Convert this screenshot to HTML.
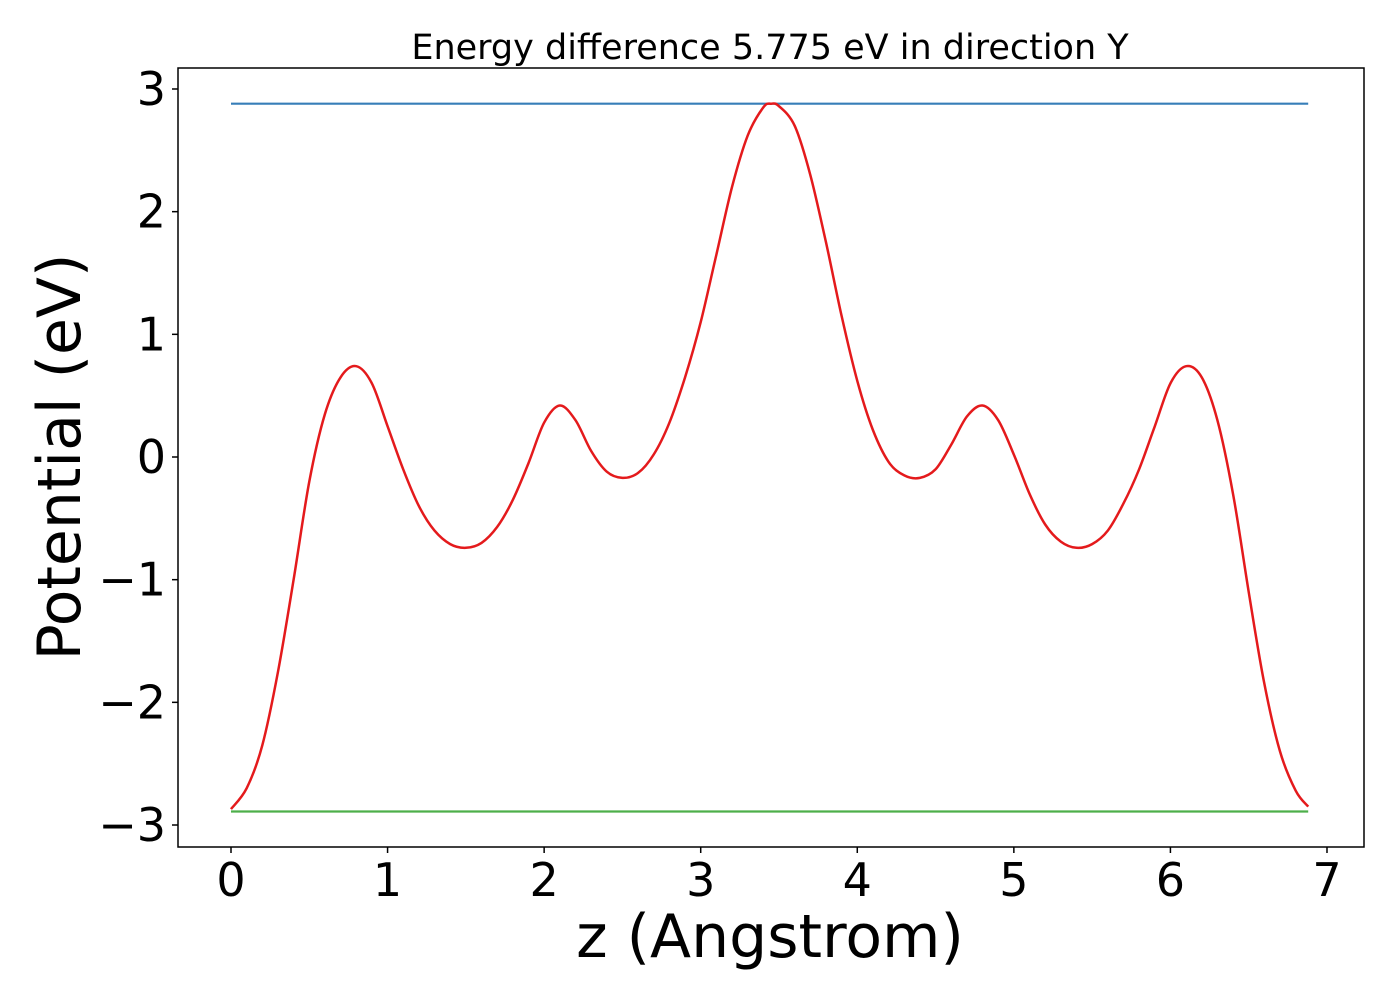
<!DOCTYPE html>
<html><head><meta charset="utf-8"><style>
body{margin:0;background:#fff}
svg text{font-family:"DejaVu Sans","Liberation Sans",sans-serif;fill:#000}
</style></head><body>
<svg id="chart" width="1400" height="1000" xmlns="http://www.w3.org/2000/svg">
<rect width="1400" height="1000" fill="#fff"/>
<text x="770" y="59" font-size="35" text-anchor="middle">Energy difference 5.775 eV in direction Y</text>
<g id="ticks"></g>
<g id="plot"></g>
<rect x="178" y="68" width="1186" height="779" fill="none" stroke="#000" stroke-width="1.5"/>
<text x="770" y="957" font-size="60" text-anchor="middle">z (Angstrom)</text>
<text transform="translate(80,457) rotate(-90)" font-size="60" text-anchor="middle">Potential (eV)</text>
</svg>
<script>
const zVals=[0,0.1,0.2,0.3,0.4,0.5,0.6,0.7,0.8,0.9,1.0,1.1,1.2,1.3,1.4,1.5,1.6,1.7,1.8,1.9,2.0,2.1,2.2,2.3,2.4,2.5,2.6,2.7,2.8,2.9,3.0,3.1,3.2,3.3,3.4,3.45,3.5,3.6,3.7,3.8,3.9,4.0,4.1,4.2,4.3,4.4,4.5,4.6,4.7,4.8,4.9,5.0,5.1,5.2,5.3,5.4,5.5,5.6,5.7,5.8,5.9,6.0,6.1,6.2,6.3,6.4,6.5,6.6,6.7,6.8,6.88];
const potVals=[-2.87,-2.70,-2.35,-1.75,-1.0,-0.2,0.35,0.65,0.74,0.6,0.25,-0.1,-0.4,-0.6,-0.71,-0.74,-0.7,-0.57,-0.35,-0.05,0.28,0.42,0.3,0.05,-0.12,-0.17,-0.13,0.02,0.28,0.65,1.1,1.65,2.2,2.62,2.85,2.88,2.86,2.7,2.3,1.75,1.15,0.62,0.22,-0.04,-0.15,-0.17,-0.1,0.1,0.33,0.42,0.3,0.02,-0.3,-0.55,-0.69,-0.74,-0.71,-0.6,-0.38,-0.1,0.25,0.6,0.74,0.65,0.3,-0.3,-1.1,-1.85,-2.4,-2.72,-2.85];
const maxLine=[2.88];
const minLine=[-2.89];
const xTicks=[0,1,2,3,4,5,6,7];
const yTicks=[3,2,1,0,-1,-2,-3];
const X=v=>231+v*156.57, Y=v=>457-v*122.67;
const NS="http://www.w3.org/2000/svg";
const plot=document.getElementById('plot'), tk=document.getElementById('ticks');
function mk(tag,attrs,parent){const e=document.createElementNS(NS,tag);for(const k in attrs)e.setAttribute(k,attrs[k]);parent.appendChild(e);return e;}
xTicks.forEach(t=>{
 const l=mk('line',{x1:X(t),x2:X(t),y1:847,y2:853,stroke:'#000','stroke-width':1.5},tk);
 
 
 const s=mk('text',{x:X(t),y:896,'font-size':46,'text-anchor':'middle'},tk);s.textContent=String(t);
 
 
});
yTicks.forEach(t=>{
 const l=mk('line',{x1:172,x2:178,y1:Y(t),y2:Y(t),stroke:'#000','stroke-width':1.5},tk);
 
 
 const s=mk('text',{x:166,y:Y(t)+16,'font-size':46,'text-anchor':'end'},tk);s.textContent=(t<0?'\u2212':'')+Math.abs(t);
 
 
});
const zmin=zVals[0], zmax=zVals[zVals.length-1];
const b=mk('line',{x1:X(zmin),x2:X(zmax),y1:Y(maxLine[0]),y2:Y(maxLine[0]),stroke:'#377eb8','stroke-width':2.2},plot);


const g=mk('line',{x1:X(zmin),x2:X(zmax),y1:Y(minLine[0]),y2:Y(minLine[0]),stroke:'#4daf4a','stroke-width':2.2},plot);


const P=zVals.map((z,i)=>[X(z),Y(potVals[i])]);
let d='M'+P[0][0].toFixed(1)+','+P[0][1].toFixed(1);
for(let i=0;i<P.length-1;i++){
 const p0=P[Math.max(i-1,0)],p1=P[i],p2=P[i+1],p3=P[Math.min(i+2,P.length-1)];
 const c1=[p1[0]+(p2[0]-p0[0])/6,p1[1]+(p2[1]-p0[1])/6];
 const c2=[p2[0]-(p3[0]-p1[0])/6,p2[1]-(p3[1]-p1[1])/6];
 d+=' C'+c1[0].toFixed(1)+','+c1[1].toFixed(1)+' '+c2[0].toFixed(1)+','+c2[1].toFixed(1)+' '+p2[0].toFixed(1)+','+p2[1].toFixed(1);
}
const p=mk('path',{d:d,fill:'none',stroke:'#e41a1c','stroke-width':2.5,'stroke-linejoin':'round'},plot);


</script>
</body></html>
